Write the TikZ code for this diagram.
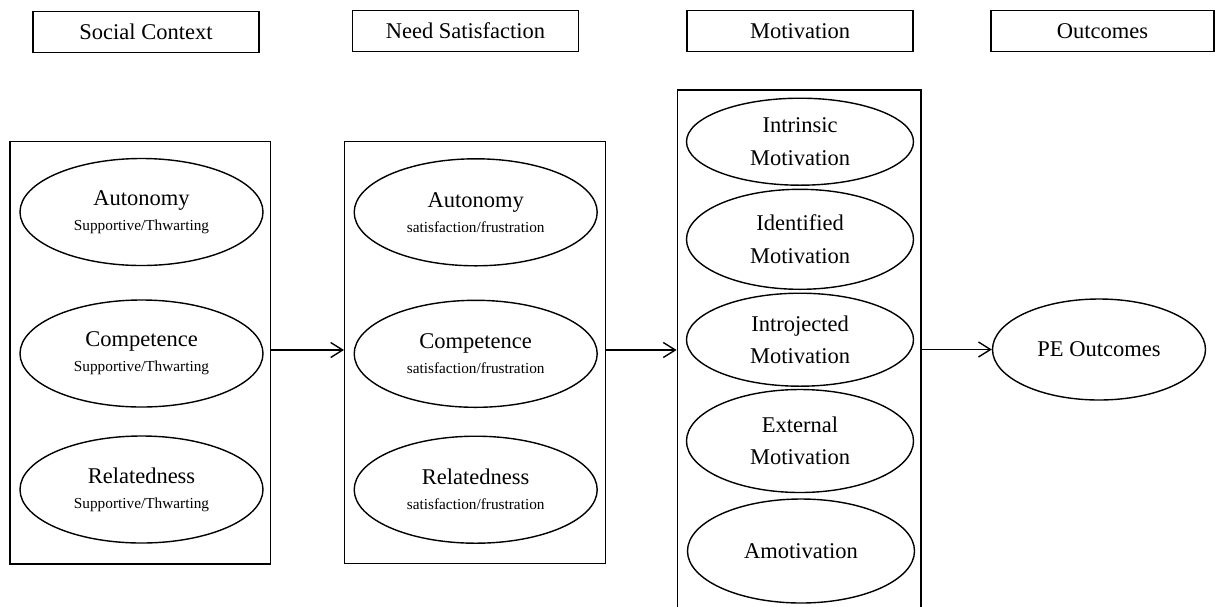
\documentclass[tikz,border=0pt]{standalone}
\usepackage{fontspec}
\setmainfont{Liberation Serif}
\usetikzlibrary{shapes.geometric,arrows.meta}
\newcommand\subfnt{\fontsize{15.3}{25}\selectfont}
\begin{document}
\begin{tikzpicture}[x=1pt,y=-1pt,
  lw/.style={line width=1.4pt},
  hdr/.style={draw,lw,minimum width=226pt,minimum height=41pt,inner sep=0pt,font=\fontsize{22.5}{27}\selectfont},
  grp/.style={draw,lw,inner sep=0pt},
  ell/.style={draw,ellipse,lw,inner sep=0pt,align=center,font=\fontsize{22.5}{25}\selectfont},
  mell/.style={draw,ellipse,lw,inner sep=0pt,align=center,minimum width=227pt,font=\fontsize{22.5}{32.5}\selectfont},
  arr/.style={lw,-{Straight Barb[length=12pt,width=15pt,line width=1.4pt]}}
]
\useasboundingbox (0,0) rectangle (1215,606);

% headers
\node[hdr] (hSoc) at (146,32) {Social Context};
\node[hdr] (hNeed) at (465.5,31) {Need Satisfaction};
\node[hdr] (hMot) at (800,31) {Motivation};
\node[hdr,minimum width=223pt] (hOut) at (1102.5,31) {Outcomes};

% group boxes
\node[grp,minimum width=260.7pt,minimum height=422.3pt] (gSoc) at (140.35,352.85) {};
\node[grp,minimum width=260.6pt,minimum height=421.6pt] (gNeed) at (475,352.5) {};
\node[grp,minimum width=243.7pt,minimum height=530pt] (gMot) at (799.15,355) {};

% social context ellipses
\node[ell,minimum width=243pt,minimum height=107pt] (sA) at (141.5,212) {Autonomy\\{\subfnt Supportive/Thwarting}};
\node[ell,minimum width=243pt,minimum height=107pt] (sC) at (141.5,353.5) {Competence\\{\subfnt Supportive/Thwarting}};
\node[ell,minimum width=243pt,minimum height=107pt] (sR) at (141.5,489.5) {Relatedness\\{\subfnt Supportive/Thwarting}};

% need satisfaction ellipses
\node[ell,minimum width=243pt,minimum height=107pt] (nA) at (475.7,212.3) {Autonomy\\{\subfnt satisfaction/frustration}};
\node[ell,minimum width=243pt,minimum height=107pt] (nC) at (475.7,353.8) {Competence\\{\subfnt satisfaction/frustration}};
\node[ell,minimum width=243pt,minimum height=107pt] (nR) at (475.7,489.7) {Relatedness\\{\subfnt satisfaction/frustration}};

% motivation ellipses
\node[mell,minimum height=87pt] (mI) at (800,141.7) {Intrinsic\\Motivation};
\node[mell,minimum height=100pt] (mId) at (800,239.3) {Identified\\Motivation};
\node[mell,minimum height=93pt] (mIn) at (800,339.7) {Introjected\\Motivation};
\node[mell,minimum height=103pt] (mE) at (800,441) {External\\Motivation};
\node[mell,minimum height=104pt] (mA) at (801,551) {Amotivation};

% outcome
\node[ell,minimum width=213pt,minimum height=101pt] (pe) at (1099,349.5) {PE Outcomes};

% connectors
\coordinate (ay) at (0,350);
\draw[arr] (gSoc.east |- ay) -- (gNeed.west |- ay);
\draw[arr] (gNeed.east |- ay) -- (gMot.west |- ay);
\draw[arr] (gMot.east |- pe.west) -- (pe.west);
\end{tikzpicture}
\end{document}
